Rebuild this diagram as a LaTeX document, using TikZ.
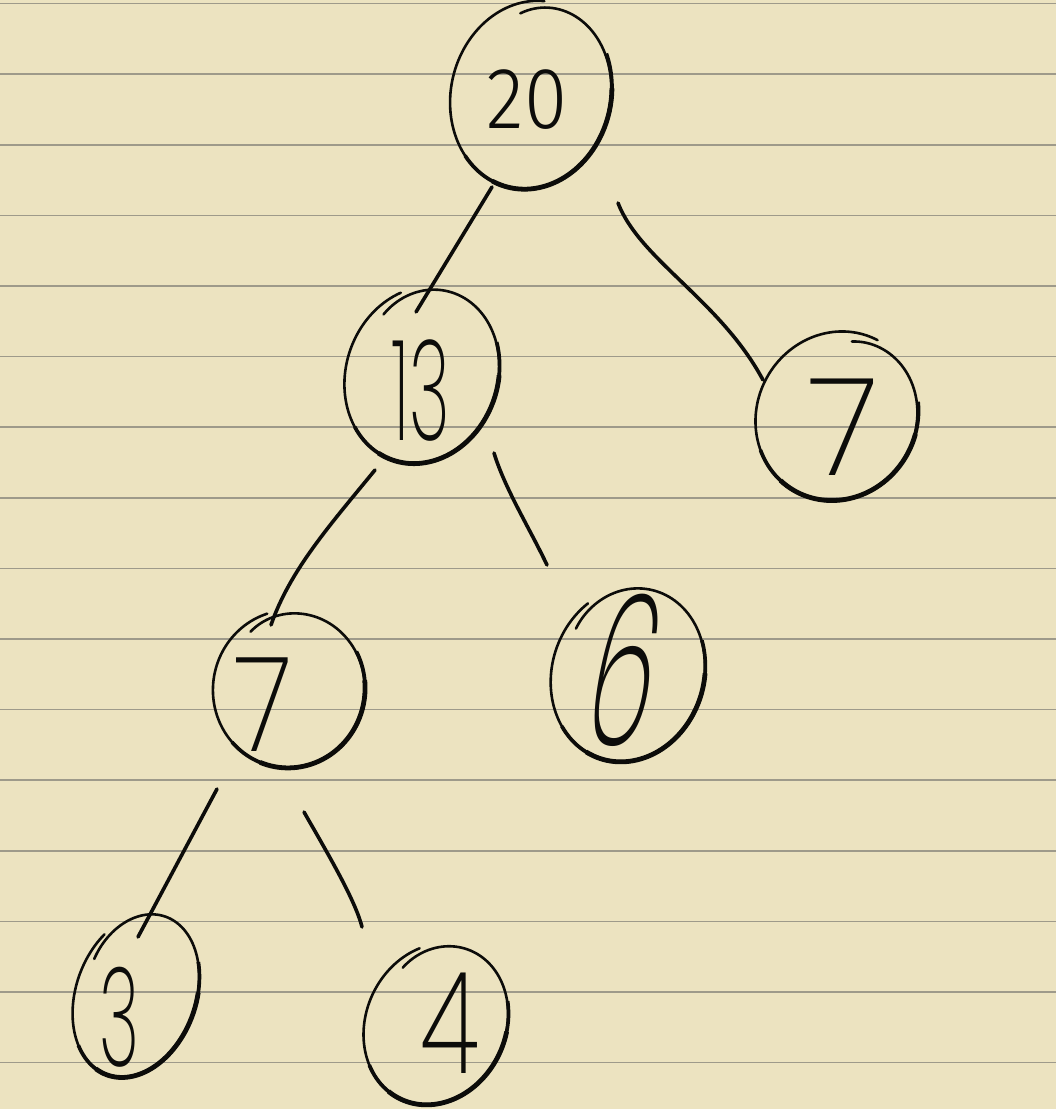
\documentclass[tikz,border=0pt]{standalone}
\usepackage{fontspec}
\newfontfamily\hand{Fira Sans Light}
\IfFontExistsTF{Poppins ExtraLight}
  {\newfontfamily\handthin{Poppins ExtraLight}}
  {\newfontfamily\handthin{Fira Sans Light}}
\usetikzlibrary{shapes.geometric}
\definecolor{paper}{RGB}{236,227,192}
\definecolor{rulecol}{RGB}{158,154,138}
\definecolor{ink}{RGB}{12,12,10}
% hand-drawn loop round a named node: node, rotation, rx, ry, start angle
\newcommand\handloop[5]{%
  \begin{scope}[shift={(#1.center)}, rotate=#2]
    \draw[loopline] plot[domain=0:378, samples=140, smooth, variable=\t]
      ({#3*(1-0.11*exp(-\t/38))*cos(#5-\t)}, {#4*(1-0.11*exp(-\t/38))*sin(#5-\t)});
    \draw[mid] (-128:#3 and #4) arc[start angle=-128, end angle=38, x radius=#3, y radius=#4];
    \draw[heavy] (-102:#3 and #4) arc[start angle=-102, end angle=16, x radius=#3, y radius=#4];
  \end{scope}}
\begin{document}
\begin{tikzpicture}[x=1pt,y=1pt,
  loopnode/.style={ellipse, draw=none, inner sep=0pt, outer sep=0pt},
  loopline/.style={draw=ink, line width=2.6pt, line cap=round, line join=round},
  mid/.style={draw=ink, line width=3.7pt, line cap=butt},
  heavy/.style={draw=ink, line width=4.8pt, line cap=butt},
  edge/.style={draw=ink, line width=3.6pt, line cap=round},
  digit/.style={inner sep=0pt, outer sep=0pt, text=ink},
]
\fill[paper] (0,0) rectangle (1056,1109);
\useasboundingbox (0,0) rectangle (1056,1109);
\foreach \k in {0,...,15}
  \draw[rulecol, line width=1.6pt] (0,{1105.3-70.6*\k}) -- (1056,{1105.3-70.6*\k});

% tree nodes (the loops are drawn round them)
\node[loopnode, minimum width=160pt, minimum height=190pt, rotate=-14] (n20) at (531,1014) {};
\node[loopnode, minimum width=152pt, minimum height=180pt, rotate=-19] (n13) at (422,734) {};
\node[loopnode, minimum width=160pt, minimum height=172pt, rotate=-30] (n7R) at (837,693) {};
\node[loopnode, minimum width=152pt, minimum height=158pt, rotate=-10] (n7L) at (289,420) {};
\node[loopnode, minimum width=152pt, minimum height=178pt, rotate=-18] (n6) at (628,435) {};
\node[loopnode, minimum width=120pt, minimum height=170pt, rotate=-20] (n3) at (136,114) {};
\node[loopnode, minimum width=140pt, minimum height=166pt, rotate=-25] (n4) at (436,85) {};

\handloop{n20}{-14}{80}{95}{115}
\handloop{n13}{-19}{76}{90}{146}
\handloop{n7R}{-30}{80}{86}{110}
\handloop{n7L}{-10}{76}{79}{135}
\handloop{n6}{-18}{76}{89}{160}
\handloop{n3}{-20}{60}{85}{165}
\handloop{n4}{-25}{70}{83}{150}

% digits
\node[digit, font=\hand\fontsize{87}{87}\selectfont] (t20) at (527,1009) {\scalebox{0.9}[1]{20}};
\node[digit, font=\handthin\fontsize{140}{140}\selectfont] (t13) at (421,718) {\scalebox{0.5}[1]{13}};
\node[digit, font=\handthin\fontsize{136}{136}\selectfont] (t7R) at (844,682) {7};
\node[digit, font=\handthin\fontsize{132}{132}\selectfont] (t7L) at (264,404) {\scalebox{0.85}[1]{7}};
\node[digit, font=\handthin\fontsize{210}{210}\selectfont, xslant=0.2, transform shape] (t6) at (626,439) {\scalebox{0.5}[1]{6}};
\node[digit, font=\handthin\fontsize{138}{138}\selectfont] (t3) at (120,92) {\scalebox{0.5}[1]{3}};
\node[digit, font=\handthin\fontsize{142}{142}\selectfont] (t4) at (450,86) {\scalebox{0.7}[1]{4}};

% connector ends
\coordinate (e1a) at ([shift={(-39,-92)}]n20.center);
\coordinate (e1b) at ([shift={(-6,63)}]n13.center);
\coordinate (e2a) at ([shift={(87,-108)}]n20.center);
\coordinate (e2b) at ([shift={(-74,36)}]n7R.center);
\coordinate (e3a) at ([shift={(-47,-95)}]n13.center);
\coordinate (e3b) at ([shift={(-18,64)}]n7L.center);
\coordinate (e4a) at ([shift={(72,-78)}]n13.center);
\coordinate (e4b) at ([shift={(-81,109)}]n6.center);
\coordinate (e5a) at ([shift={(-72,-100)}]n7L.center);
\coordinate (e5b) at ([shift={(2,58)}]n3.center);
\coordinate (e6a) at ([shift={(15,-123)}]n7L.center);
\coordinate (e6b) at ([shift={(-74,97)}]n4.center);

\draw[edge] (e1a) -- (e1b);
\draw[edge] (e2a) .. controls +(22,-57) and +(-43,80) .. (e2b);
\draw[edge] (e3a) .. controls +(-45,-55) and +(19,55) .. (e3b);
\draw[edge] (e4a) .. controls +(11,-36) and +(-17,36) .. (e4b);
\draw[edge] (e5a) -- (e5b);
\draw[edge] (e6a) .. controls +(21,-37) and +(-7,28) .. (e6b);
\end{tikzpicture}
\end{document}
